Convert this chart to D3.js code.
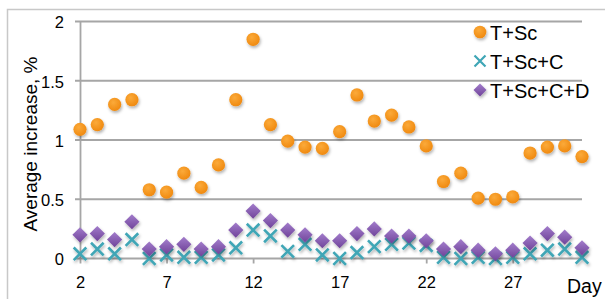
<!DOCTYPE html>
<html>
<head>
<meta charset="utf-8">
<script src="https://cdn.jsdelivr.net/npm/d3@7"></script>
<style>
  body { margin: 0; background: #fff; }
  text { font-family: Arial, "Liberation Sans", sans-serif; fill: #000; }
</style>
</head>
<body>
<div id="chart"></div>
<script>
// days on the x axis
var days = [2,3,4,5,6,7,8,9,10,11,12,13,14,15,16,17,18,19,20,21,22,23,24,25,26,27,28,29,30,31];
// T+Sc
var tsc = [1.09,1.13,1.30,1.34,0.58,0.56,0.72,0.60,0.79,1.34,1.85,1.13,0.99,0.94,0.93,1.07,1.38,1.16,1.21,1.11,0.95,0.65,0.72,0.51,0.50,0.52,0.89,0.94,0.95,0.86];
// T+Sc+C
var tscC = [0.04,0.08,0.04,0.16,0.00,0.03,0.01,0.01,0.03,0.09,0.24,0.19,0.06,0.12,0.03,0.00,0.05,0.10,0.12,0.13,0.11,0.01,0.00,0.01,0.00,0.01,0.04,0.07,0.08,0.01];
// T+Sc+C+D
var tscCD = [0.20,0.21,0.16,0.31,0.08,0.10,0.12,0.08,0.10,0.24,0.40,0.32,0.24,0.20,0.15,0.15,0.21,0.25,0.19,0.19,0.15,0.08,0.10,0.07,0.04,0.07,0.13,0.21,0.18,0.09];

var yTicks = [0, 0.5, 1, 1.5, 2];
var xTicks = [2, 7, 12, 17, 22, 27];
var legendNames = ["T+Sc", "T+Sc+C", "T+Sc+C+D"];

var W = 605, H = 299;
var gridCol = "#a6a6a6";

var svg = d3.select("#chart").append("svg")
    .attr("width", W)
    .attr("height", H);

var defs = svg.append("defs");
var shadow = defs.append("filter").attr("id", "shadow")
    .attr("x", "-50%").attr("y", "-50%").attr("width", "200%").attr("height", "200%");
shadow.append("feDropShadow")
    .attr("dx", 1).attr("dy", 2).attr("stdDeviation", 1.4)
    .attr("flood-color", "#000").attr("flood-opacity", 0.3);

var og = defs.append("radialGradient").attr("id", "orangeGrad")
    .attr("cx", "40%").attr("cy", "35%").attr("r", "65%");
og.append("stop").attr("offset", "0%").attr("stop-color", "#fbaa3a");
og.append("stop").attr("offset", "100%").attr("stop-color", "#f08a10");

var pg = defs.append("linearGradient").attr("id", "purpleGrad")
    .attr("x1", "0").attr("y1", "0").attr("x2", "0").attr("y2", "1");
pg.append("stop").attr("offset", "0%").attr("stop-color", "#a27ccb");
pg.append("stop").attr("offset", "100%").attr("stop-color", "#70449a");

// chart area border
svg.append("path")
    .attr("d", "M7.5," + H + "V9.5H" + W)
    .attr("fill", "none")
    .attr("stroke", "#c8c8c8")
    .attr("stroke-width", 1.5);

var x = d3.scaleLinear().domain([2, 31]).range([80, 582]);
var y = d3.scaleLinear().domain([0, 2]).range([258.5, 21.5]);

// gridlines
svg.append("g").selectAll("line")
    .data(yTicks)
  .enter().append("line")
    .attr("x1", 75).attr("x2", x(31))
    .attr("y1", function(d){ return y(d); })
    .attr("y2", function(d){ return y(d); })
    .attr("stroke", gridCol)
    .attr("stroke-width", 1.8);

// y axis
var yAxis = svg.append("g")
    .attr("transform", "translate(" + x(2) + ",0)")
    .call(d3.axisLeft(y).tickValues(yTicks).tickSize(0).tickPadding(16)
      .tickFormat(function(d){ return d; }));
yAxis.select(".domain").attr("stroke", gridCol).attr("stroke-width", 1.8);
yAxis.selectAll("text").style("font-size", "16.5px").attr("dy", "0.38em");

// x axis
var xAxis = svg.append("g")
    .attr("transform", "translate(0," + y(0) + ")")
    .call(d3.axisBottom(x).tickValues(xTicks).tickSize(5).tickPadding(13));
xAxis.select(".domain").remove();
xAxis.selectAll("line").attr("stroke", gridCol).attr("stroke-width", 1.8);
xAxis.selectAll("text").style("font-size", "16.5px");

svg.append("text")
    .attr("x", 567).attr("y", 293)
    .style("font-size", "19.5px")
    .text("Day");

svg.append("text")
    .attr("transform", "translate(37,144) rotate(-90)")
    .attr("text-anchor", "middle")
    .style("font-size", "19px")
    .text("Average increase, %");

function crossPath(s){
  return "M" + (-s) + "," + (-s) + "L" + s + "," + s + "M" + (-s) + "," + s + "L" + s + "," + (-s);
}
function diamondPath(s){
  return "M0," + (-s) + "L" + s + ",0L0," + s + "L" + (-s) + ",0Z";
}

// T+Sc circles
svg.append("g").selectAll("circle")
    .data(tsc)
  .enter().append("circle")
    .attr("cx", function(d,i){ return x(days[i]); })
    .attr("cy", function(d){ return y(d); })
    .attr("r", 6.6)
    .attr("fill", "url(#orangeGrad)")
    .attr("filter", "url(#shadow)");

// T+Sc+C crosses
svg.append("g").selectAll("path")
    .data(tscC)
  .enter().append("path")
    .attr("transform", function(d,i){ return "translate(" + x(days[i]) + "," + y(d) + ")"; })
    .attr("d", crossPath(6.3))
    .attr("fill", "none")
    .attr("stroke", "#3fa6b6")
    .attr("stroke-width", 2.6)
    .attr("filter", "url(#shadow)");

// T+Sc+C+D diamonds
svg.append("g").selectAll("path")
    .data(tscCD)
  .enter().append("path")
    .attr("transform", function(d,i){ return "translate(" + x(days[i]) + "," + y(d) + ")"; })
    .attr("d", diamondPath(7.6))
    .attr("fill", "url(#purpleGrad)")
    .attr("filter", "url(#shadow)");

// legend
var legend = svg.append("g");
var rowY = [32, 61, 90];
legend.append("circle").attr("cx", 480).attr("cy", rowY[0]).attr("r", 6.3)
    .attr("fill", "url(#orangeGrad)").attr("filter", "url(#shadow)");
legend.append("path").attr("transform", "translate(480," + rowY[1] + ")")
    .attr("d", crossPath(5.5)).attr("fill", "none")
    .attr("stroke", "#3fa6b6").attr("stroke-width", 2.2);
legend.append("path").attr("transform", "translate(480," + rowY[2] + ")")
    .attr("d", diamondPath(6.5)).attr("fill", "url(#purpleGrad)")
    .attr("filter", "url(#shadow)");
legend.selectAll("text")
    .data(legendNames)
  .enter().append("text")
    .attr("x", 490)
    .attr("y", function(d,i){ return rowY[i] + 8; })
    .style("font-size", "20px")
    .text(function(d){ return d; });
</script>
</body>
</html>
